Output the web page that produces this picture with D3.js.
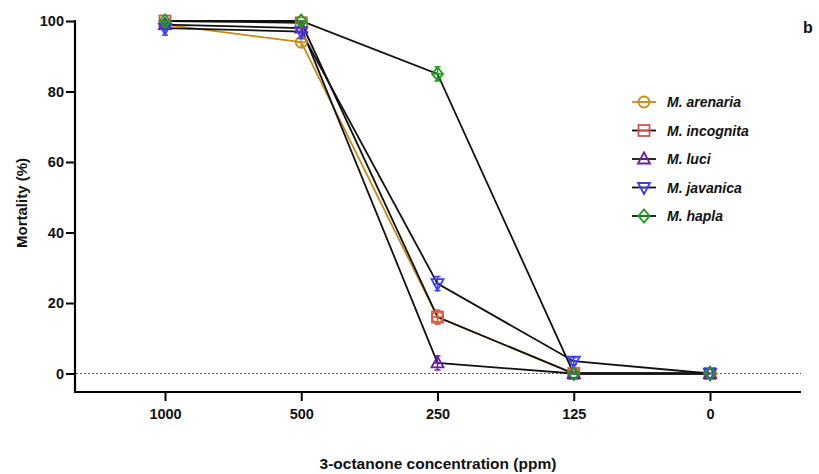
<!DOCTYPE html>
<html><head><meta charset="utf-8">
<script src="https://cdn.jsdelivr.net/npm/d3@7"></script>
<style>
body{margin:0;background:#fff;}
text{font-family:"Liberation Sans",Arial,sans-serif;}
</style></head>
<body><svg id="c" width="819" height="474"></svg>
<script>
const categories = ["1000","500","250","125","0"];
const seriesNames = ["M. arenaria","M. incognita","M. luci","M. javanica","M. hapla"];
const arenaria  = [99, 94, 16, 0, 0];
const incognita = [100, 99.5, 16, 0, 0];
const luci      = [99, 98, 3, 0, 0];
const javanica  = [98, 97, 25.5, 3.5, 0];
const hapla     = [100, 100, 85, 0, 0];
const errArenaria  = [1, 1.5, 1.5, 0.5, 0];
const errIncognita = [1, 1, 2, 0.5, 0];
const errLuci      = [1, 1, 2, 0.5, 0];
const errJavanica  = [2, 2, 2, 1, 0];
const errHapla     = [1, 1, 2, 0.5, 0];
const yTicks = [0,20,40,60,80,100];

const colors = ["#d08c12","#d9534f","#6a1fa0","#3b3bef","#1a9e1a"];
const lineColors = ["#c98a1a","#111","#111","#111","#111"];
const shapes = ["circle","square","triangle","tridown","diamond"];
const values = [arenaria,incognita,luci,javanica,hapla];
const errs = [errArenaria,errIncognita,errLuci,errJavanica,errHapla];

const svg = d3.select("#c");
const x = d3.scalePoint().domain(categories).range([165,710]);
const y = d3.scaleLinear().domain([0,100]).range([373.5,21]);

// zero dotted line
svg.append("line").attr("x1",76).attr("x2",801).attr("y1",y(0)).attr("y2",y(0))
  .attr("stroke","#555").attr("stroke-width",1).attr("stroke-dasharray","2,2");

// axes
const yAx = svg.append("g").attr("transform","translate(75,0)")
  .call(d3.axisLeft(y).tickValues(yTicks).tickSize(9).tickSizeOuter(0));
yAx.select(".domain").remove();
yAx.selectAll(".tick line").attr("stroke","#000").attr("stroke-width",2);
yAx.selectAll(".tick text").attr("font-size",14.5).attr("font-weight","bold").attr("fill","#111").attr("x",-11);
svg.append("line").attr("x1",75).attr("x2",75).attr("y1",20).attr("y2",393).attr("stroke","#000").attr("stroke-width",2.2);

const xAx = svg.append("g").attr("transform","translate(0,392)")
  .call(d3.axisBottom(x).tickSize(9).tickSizeOuter(0));
xAx.select(".domain").remove();
xAx.selectAll(".tick line").attr("stroke","#000").attr("stroke-width",2);
xAx.selectAll(".tick text").attr("font-size",14.5).attr("font-weight","bold").attr("fill","#111").attr("dy","1.05em");
svg.append("line").attr("x1",74).attr("x2",801).attr("y1",392).attr("y2",392).attr("stroke","#000").attr("stroke-width",2.2);

// axis titles
svg.append("text").attr("x",438).attr("y",469).attr("text-anchor","middle")
  .attr("font-size",15.5).attr("font-weight","bold").attr("fill","#111").text("3-octanone concentration (ppm)");
svg.append("text").attr("transform","translate(27,203) rotate(-90)").attr("text-anchor","middle")
  .attr("font-size",15).attr("font-weight","bold").attr("fill","#111").text("Mortality (%)");
svg.append("text").attr("x",803).attr("y",33).attr("font-size",16).attr("font-weight","bold").attr("fill","#111").text("b");

function marker(g, shape, color, cx, cy){
  const s = 5.5;
  let el;
  if(shape==="circle") el = g.append("circle").attr("cx",cx).attr("cy",cy).attr("r",s);
  else if(shape==="square") el = g.append("rect").attr("x",cx-s).attr("y",cy-s).attr("width",2*s).attr("height",2*s);
  else if(shape==="triangle") el = g.append("path").attr("d",`M${cx},${cy-s-1}L${cx+s+0.5},${cy+s-1}L${cx-s-0.5},${cy+s-1}Z`);
  else if(shape==="tridown") el = g.append("path").attr("d",`M${cx},${cy+s+1}L${cx+s+0.5},${cy-s+1}L${cx-s-0.5},${cy-s+1}Z`);
  else el = g.append("path").attr("d",`M${cx},${cy-s-1}L${cx+s},${cy}L${cx},${cy+s+1}L${cx-s},${cy}Z`);
  el.attr("fill","none").attr("stroke",color).attr("stroke-width",1.8);
  g.append("line").attr("x1",cx-s+1).attr("x2",cx+s-1).attr("y1",cy).attr("y2",cy).attr("stroke",color).attr("stroke-width",1.5);
}

const line = d3.line().x((d,i)=>x(categories[i])).y(d=>y(d));
values.forEach((v,k)=>{
  svg.append("path").attr("d",line(v)).attr("fill","none").attr("stroke",lineColors[k]).attr("stroke-width",1.8);
});
values.forEach((v,k)=>{
  const g = svg.append("g");
  v.forEach((d,i)=>{
    const cx = x(categories[i]), e = errs[k][i];
    if(e>0){
      const t = y(Math.min(100,d+e)), b = y(Math.max(0,d-e));
      g.append("line").attr("x1",cx).attr("x2",cx).attr("y1",t).attr("y2",b).attr("stroke",colors[k]).attr("stroke-width",1.5);
      g.append("line").attr("x1",cx-3).attr("x2",cx+3).attr("y1",t).attr("y2",t).attr("stroke",colors[k]).attr("stroke-width",1.5);
      g.append("line").attr("x1",cx-3).attr("x2",cx+3).attr("y1",b).attr("y2",b).attr("stroke",colors[k]).attr("stroke-width",1.5);
    }
    marker(g, shapes[k], colors[k], cx, y(d));
  });
});

// legend
const lg = svg.append("g");
seriesNames.forEach((n,k)=>{
  const yy = 102 + k*28.5;
  lg.append("line").attr("x1",632).attr("x2",656).attr("y1",yy).attr("y2",yy).attr("stroke",lineColors[k]).attr("stroke-width",1.8);
  marker(lg, shapes[k], colors[k], 644, yy);
  lg.append("text").attr("x",667).attr("y",yy+5).attr("font-size",14).attr("font-weight","bold")
    .attr("font-style","italic").attr("fill","#111").text(n);
});
</script></body></html>
